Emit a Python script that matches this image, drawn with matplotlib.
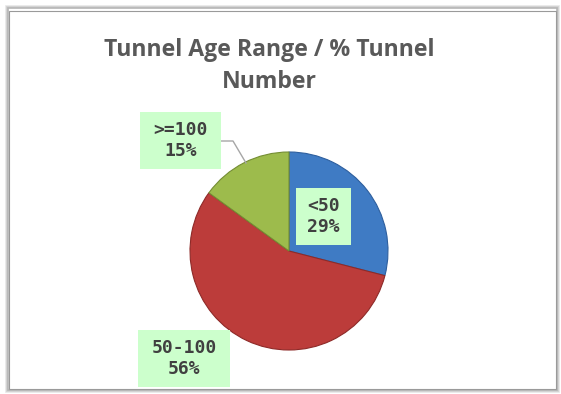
import matplotlib
matplotlib.use("Agg")
import matplotlib.pyplot as plt
from matplotlib.patches import Rectangle
from matplotlib.lines import Line2D

title = "Tunnel Age Range / % Tunnel\nNumber"
categories = ["<50", "50-100", ">=100"]
values = [29, 56, 15]
colors = ["#3F7BC4", "#BC3C3A", "#9DBB4C"]

W, H = 561, 394
fig = plt.figure(figsize=(W / 100, H / 100), dpi=100)

def fx(x):
    return x / W

def fy(y):
    return 1 - y / H

# chart frame with soft shadow
for i, c in enumerate(["#E6E6E6", "#CFCFCF", "#B5B5B5"]):
    fig.patches.append(Rectangle((fx(6 + i), fy(392 - i)), fx(553 - 2 * i), (386 - 2 * i) / H,
                                 transform=fig.transFigure, facecolor="none",
                                 edgecolor=c, linewidth=1.2, zorder=-2))
fig.patches.append(Rectangle((fx(9), fy(389)), fx(547), 378 / H, transform=fig.transFigure,
                             facecolor="white", edgecolor="#9A9A9A", linewidth=0.8, zorder=-1))

fig.text(fx(269), fy(66), title, ha="center", va="center", fontsize=16.6,
         fontweight="bold", color="#595959", family="Open Sans", linespacing=1.45)

# pie axes: center (289, 251) px, radius 99 px
cx, cy, half = 289, 251, 110
ax = fig.add_axes([fx(cx - half), fy(cy + half), 2 * half / W, 2 * half / H])
ax.patch.set_alpha(0)
wedges, _ = ax.pie(values, colors=colors, startangle=90, counterclock=False, radius=99,
                   wedgeprops=dict(linewidth=0.8))
ax.set_xlim(-half, half)
ax.set_ylim(-half, half)
ax.axis("off")
for w, c in zip(wedges, ["#2E5F9E", "#8E2A28", "#748D33"]):
    w.set_edgecolor(c)

# labels
pct = [f"{v}%" for v in values]
boxes = [(296, 188, 55, 57), (138, 330, 92, 57), (140, 112, 81, 57)]
for cat, p, (bx, by, bw, bh) in zip(categories, pct, boxes):
    fig.patches.append(Rectangle((fx(bx), fy(by + bh)), bw / W, bh / H,
                                 transform=fig.transFigure, facecolor="#CCFFCC",
                                 edgecolor="none", zorder=5))
    fig.text(fx(bx + bw / 2), fy(by + bh / 2), f"{cat}\n{p}", ha="center", va="center",
             fontsize=13, family="DejaVu Sans Mono", fontweight="bold", color="#404040",
             linespacing=1.2, zorder=6)

# leader line for >=100
fig.lines.append(Line2D([fx(221), fx(233), fx(246)], [fy(141), fy(141), fy(163)],
                        transform=fig.transFigure, color="#A6A6A6", linewidth=1))

fig.savefig("out.png", dpi=100, facecolor="white")
